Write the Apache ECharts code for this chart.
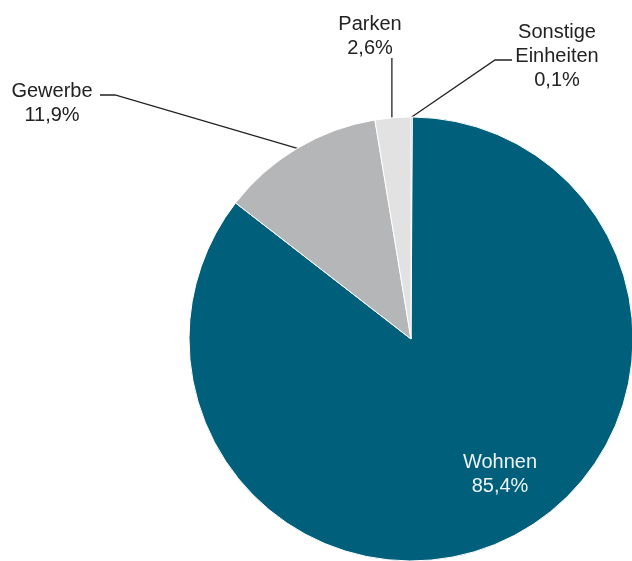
<!DOCTYPE html>
<html>
<head>
<meta charset="utf-8">
<style>
  html, body { margin: 0; padding: 0; background: #ffffff; }
  #chart { width: 632px; height: 561px; }
</style>
<script src="https://cdn.jsdelivr.net/npm/echarts@6/dist/echarts.min.js"></script>
</head>
<body>
<div id="chart"></div>
<script>
// Segment names (clockwise from 12 o'clock) and their shares in percent
const categories = ['Sonstige\nEinheiten', 'Wohnen', 'Gewerbe', 'Parken'];
const shares = [0.1, 85.4, 11.9, 2.6];
const colors = ['#2b6f86', '#005f7a', '#b5b6b8', '#e2e2e3'];

// Where each label block sits and how its leader line bends
const labelSpots = {
  'Sonstige\nEinheiten': { x: 557, y: 56, line: [[495, 60], [512, 60]] },
  'Wohnen': { x: 500, y: 474 },
  'Gewerbe': { x: 52, y: 103, line: [[115, 95], [100, 95]] },
  'Parken': { x: 370, y: 36, line: 'vertical', top: 58 }
};

function fmt(v) {
  return v.toFixed(1).replace('.', ',') + '%';
}

const chart = echarts.init(document.getElementById('chart'), null, { renderer: 'canvas' });

const data = categories.map((name, i) => {
  const item = { name: name, value: shares[i], itemStyle: { color: colors[i] } };
  if (name === 'Wohnen') {
    item.label = { position: 'inside', color: '#eef3f5' };
    item.labelLine = { show: false };
  }
  return item;
});

chart.setOption({
  animation: false,
  series: [{
    type: 'pie',
    center: [411, 339],
    radius: 222,
    startAngle: 90,
    clockwise: true,
    avoidLabelOverlap: false,
    minShowLabelAngle: 0,
    data: data,
    itemStyle: { borderColor: '#ffffff', borderWidth: 1 },
    label: {
      show: true,
      position: 'outside',
      fontFamily: 'Liberation Sans, Arial, sans-serif',
      fontSize: 20,
      lineHeight: 24,
      color: '#222222',
      align: 'center',
      formatter: p => p.name + '\n' + fmt(p.value)
    },
    labelLine: {
      show: true,
      length: 20,
      length2: 10,
      lineStyle: { color: '#222222', width: 1.3 }
    },
    labelLayout: function (params) {
      const spot = labelSpots[categories[params.dataIndex]];
      const out = { x: spot.x, y: spot.y, align: 'center', verticalAlign: 'middle' };
      const pts = params.labelLinePoints;
      if (pts && spot.line) {
        const edge = pts[0];
        if (spot.line === 'vertical') {
          // straight drop from the label down onto the slice rim
          const lx = edge[0] - 1;
          out.labelLinePoints = [[lx, edge[1] + 1], [lx, spot.top], [lx, spot.top]];
        } else {
          out.labelLinePoints = [edge, spot.line[0], spot.line[1]];
        }
      }
      return out;
    }
  }]
});
</script>
</body>
</html>
